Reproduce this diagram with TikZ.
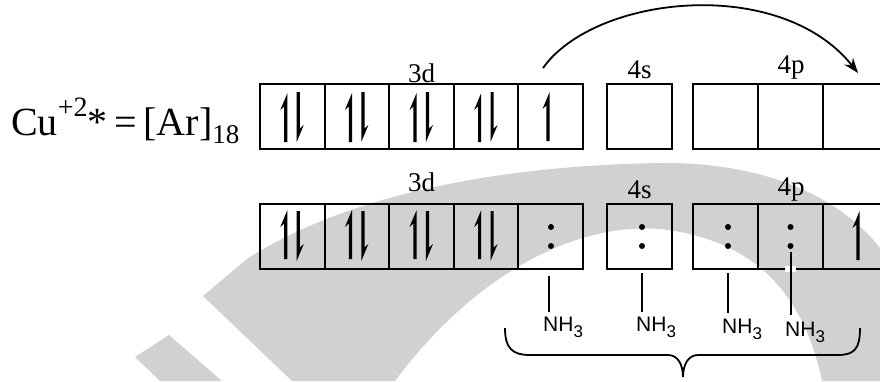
\documentclass[tikz,border=0pt]{standalone}
\usepackage{fontspec}
\setmainfont{Liberation Serif}
\newfontfamily\nhfont{Liberation Sans}
\usetikzlibrary{arrows.meta}

\tikzset{
  orb/.style={draw, line width=2pt, minimum width=64.6pt, minimum height=65pt, inner sep=0pt, fill=none},
  sublabel/.style={anchor=base, inner sep=0pt, font=\fontsize{27}{27}\selectfont},
  ligand/.style={anchor=base west, inner sep=0pt, font=\nhfont\fontsize{21}{21}\selectfont},
  lonepair/.style={circle, fill=black, inner sep=0pt, minimum size=6pt},
  bond/.style={line width=1.7pt},
  wmark/.style={fill=black!18},
  spinup/.pic={\fill (-1.6,49) -- (1.6,49) -- (1.6,0) -- (-5.5,17) -- (-1.6,13.5) -- cycle;},
  spindown/.pic={\fill (1.6,0) -- (-1.6,0) -- (-1.6,50) -- (5.5,33) -- (1.6,36.5) -- cycle;},
}

\begin{document}
\begin{tikzpicture}[x=1pt, y=-1pt]
\useasboundingbox (0,0) rectangle (880,381);

% faint background emblem
\fill[wmark] (247,259) .. controls (330,205) and (470,166) .. (660,163)
  .. controls (770,162) and (850,200) .. (890,262) -- (890,381) -- (822,381)
  .. controls (805,300) and (760,240) .. (660,229)
  .. controls (570,222) and (470,280) .. (395,381) -- (292,381)
  -- (203,296) -- cycle;
\fill[wmark] (135,357) -- (169,335) -- (222,381) -- (160,381) -- cycle;

% configuration label
\node[anchor=base west, inner sep=0pt] (cfg) at (11,135)
  {\fontsize{40}{40}\selectfont Cu\raisebox{19pt}{\fontsize{28}{28}\selectfont +2}*\,=\,[Ar]\raisebox{-8pt}{\fontsize{27}{27}\selectfont 18}};

% upper row of orbitals
\foreach \i/\x in {1/292.3, 2/356.9, 3/421.5, 4/486.1, 5/550.7}
  \node[orb] (t\i) at (\x,116.5) {};
\node[orb] (ts) at (639.5,116.5) {};
\foreach \i/\x in {1/725.5, 2/790.5, 3/855.5}
  \node[orb] (tp\i) at (\x,116.5) {};

\node[sublabel] (t3d) at (421.5,82) {3d};
\node[sublabel] (t4s) at (639.5,78) {4s};
\node[sublabel] (t4p) at (791,73) {4p};

\foreach \i in {1,...,4} {
  \pic at ([xshift=-6.5pt,yshift=-10pt]t\i.north) {spinup};
  \pic at ([xshift=6pt,yshift=-9pt]t\i.north) {spindown};
}
\pic at ([xshift=-2.7pt,yshift=-9pt]t5.north) {spinup};

% promotion of the unpaired electron
\coordinate (jumpA) at (543,68);
\coordinate (jumpB) at (858,73);
\draw[line width=1.8pt, -{Stealth[length=15pt, width=11pt]}]
  (jumpA) .. controls (595,-5) and (780,-25) .. (jumpB);

% lower row of orbitals
\foreach \i/\x in {1/292.3, 2/356.9, 3/421.5, 4/486.1, 5/550.7}
  \node[orb] (b\i) at (\x,236.5) {};
\node[orb] (bs) at (639.5,236.5) {};
\foreach \i/\x in {1/725.5, 2/790.5, 3/855.5}
  \node[orb] (bp\i) at (\x,236.5) {};

\node[sublabel] (b3d) at (421.5,191) {3d};
\node[sublabel] (b4s) at (639.5,198) {4s};
\node[sublabel] (b4p) at (791,195) {4p};

\foreach \i in {1,...,4} {
  \pic at ([xshift=-6.5pt,yshift=-7pt]b\i.north) {spinup};
  \pic at ([xshift=6pt,yshift=-8pt]b\i.north) {spindown};
}
\pic at ([xshift=2.5pt,yshift=-8pt]bp3.north) {spinup};

% donated lone pairs
\foreach \n/\x in {a/551, b/642, c/728, d/790.5} {
  \node[lonepair] (\n1) at (\x,227) {};
  \node[lonepair] (\n2) at (\x,246) {};
}

% ammonia ligands
\newcommand\ammonia{NH\raisebox{-6pt}{\fontsize{17}{17}\selectfont 3}}
\node[ligand] (nh1) at (543,331) {\ammonia};
\node[ligand] (nh2) at (636,331) {\ammonia};
\node[ligand] (nh3) at (722,333) {\ammonia};
\node[ligand] (nh4) at (785,336) {\ammonia};

\coordinate (l1) at (549,276); \coordinate (m1) at (549,312);
\coordinate (l2) at (642,273); \coordinate (m2) at (642,312);
\coordinate (l3) at (728,273); \coordinate (m3) at (728,313);
\coordinate (l4) at (791,252); \coordinate (m4) at (791,315);
\fill[white] (785,266) rectangle (796,271.5);
\draw[bond] (l1) -- (m1);
\draw[bond] (l2) -- (m2);
\draw[bond] (l3) -- (m3);
\draw[bond] (l4) -- (m4);

% brace grouping the four ligands
\coordinate (brL) at (505,328);
\coordinate (brT) at (683,377);
\coordinate (brR) at (860,328);
\draw[line width=1.8pt] (brL) .. controls (505,348) and (512,355) .. (530,355) -- (668,355)
  .. controls (678,355) and (683,365) .. (brT)
  .. controls (683,365) and (688,355) .. (698,355) -- (838,355)
  .. controls (855,355) and (860,348) .. (brR);
\end{tikzpicture}
\end{document}
